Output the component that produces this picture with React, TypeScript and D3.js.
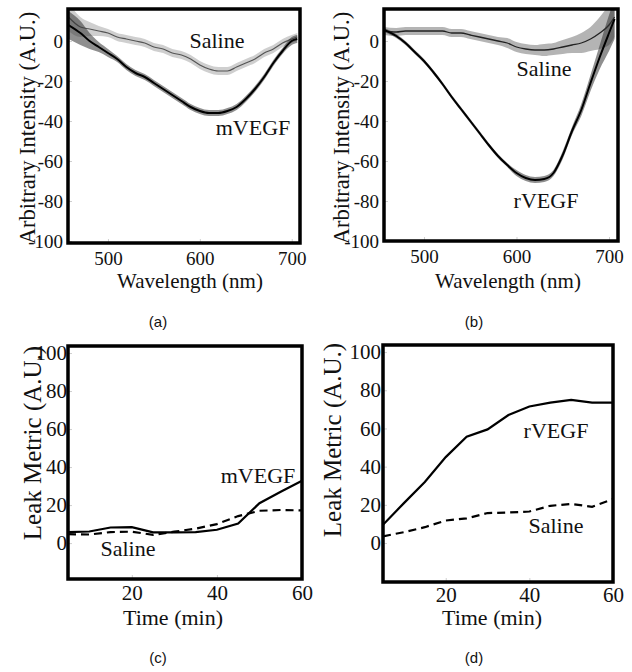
import React, { useRef, useEffect } from 'react';
import * as d3 from 'd3';

// spectra (a) and (b)
const wavelengths = [457, 470, 480, 490, 500, 510, 520, 530, 540, 550, 560, 570, 580, 590, 600, 610, 620, 630, 640, 650, 660, 670, 680, 690, 700, 706];
const mvegfSpectrum = [8, 4, 0, -3, -6, -9, -13, -16, -18, -21, -24, -27, -30, -33, -35, -36, -36, -35, -33, -29, -24, -18, -11, -5, 0, 1];
const mvegfNoise = [7, 6, 4, 2.5, 2, 1.5, 1.5, 1.5, 1.5, 1.5, 1.5, 1.5, 1.5, 1.5, 1.5, 1.5, 1.5, 1.5, 1.5, 1.5, 1.5, 1.5, 1.5, 1.5, 2, 2];
const salineSpectrumA = [12, 7, 6, 5, 4, 2, 1, 0, -1, -3, -4, -6, -7, -9, -12, -14, -15, -15, -13, -11, -9, -6, -4, -1, 1, 2];
const salineNoiseA = [7, 5, 3.5, 2.5, 2, 2, 2, 2, 2, 2, 2, 2, 2, 2, 2, 2, 2, 2, 2, 2, 2, 2, 2, 2, 2, 2];
const rvegfSpectrum = [5.5, 2.5, -1, -5.5, -10, -15.5, -21.5, -28, -34, -40, -46, -52, -57.5, -62, -66, -68.5, -69.5, -69, -66, -57, -45, -34.5, -21, -8, 4, 11];
const rvegfNoise = [1, 1, 1, 1, 1, 1, 1, 1, 1, 1, 1, 1, 1, 1, 1.5, 1.5, 1.5, 1.5, 1.5, 2, 2, 3, 4, 6, 9, 10];
const salineSpectrumB = [5, 4.5, 5, 5, 5, 5, 5, 4, 4, 3, 2, 1, 0, -1, -3, -4, -4.5, -4.5, -4, -3, -2, -1, 1, 4, 8, 12];
const salineNoiseB = [2, 2, 2, 2, 2, 2, 2, 2, 2, 2, 2, 2, 2, 2.5, 2.5, 2.5, 2.5, 3, 3, 3.5, 4, 5, 6, 8, 10, 10];

// leak metric (c) and (d)
const times = [5, 10, 15, 20, 25, 30, 35, 40, 45, 50, 55, 60];
const mvegfLeak = [5.8, 6.1, 8.2, 8.4, 5.6, 5.6, 5.8, 7, 10.3, 21, 27, 32.8];
const salineLeakC = [4.7, 4.5, 5.8, 6.0, 4.3, 6.0, 7.6, 10, 14.2, 17, 17.4, 17.2];
const rvegfLeak = [9.6, 20.9, 32, 45, 55.7, 59.5, 67, 71.5, 73.5, 75, 73.5, 73.5];
const salineLeakD = [3.5, 5.7, 8.3, 11.8, 12.9, 15.7, 16, 16.5, 19.5, 20.5, 19, 23];

const wavelengthTicks = [500, 600, 700];
const intensityTicks = [0, -20, -40, -60, -80, -100];
const timeTicks = [20, 40, 60];
const leakTicks = [0, 20, 40, 60, 80, 100];

const serif = '"Liberation Serif", "Times New Roman", serif';
const sans = '"Liberation Sans", Arial, sans-serif';

const panels = [
  {
    box: [68, 9, 300, 243], xDomain: [456.5, 709], yDomain: [-101, 16],
    xTicks: wavelengthTicks, yTicks: intensityTicks, tickFont: 19, yPad: 5, xPad: 9,
    xTitle: 'Wavelength (nm)', xTitlePos: [190, 288], titleFont: 21,
    yTitle: 'Arbitrary Intensity (A.U.)', yTitlePos: [35, 128], yTitleFont: 22.5,
    caption: '(a)', captionPos: [158, 327],
    spectra: [
      { values: salineSpectrumA, noise: salineNoiseA, band: '#a8a8a8', line: '#555', width: 1.2 },
      { values: mvegfSpectrum, noise: mvegfNoise, band: '#333', line: '#000', width: 2 },
    ],
    leaks: [],
    labels: [{ text: 'Saline', x: 217, y: 48 }, { text: 'mVEGF', x: 253, y: 135 }],
  },
  {
    box: [384, 9, 618, 241], xDomain: [456.8, 709.7], yDomain: [-100, 16],
    xTicks: wavelengthTicks, yTicks: intensityTicks, tickFont: 19, yPad: 5, xPad: 9,
    xTitle: 'Wavelength (nm)', xTitlePos: [508, 288], titleFont: 21,
    yTitle: 'Arbitrary Intensity (A.U.)', yTitlePos: [349, 128], yTitleFont: 22.5,
    caption: '(b)', captionPos: [474, 327],
    spectra: [
      { values: salineSpectrumB, noise: salineNoiseB, band: '#777', line: '#222', width: 1.3 },
      { values: rvegfSpectrum, noise: rvegfNoise, band: '#333', line: '#000', width: 2 },
    ],
    leaks: [],
    labels: [{ text: 'Saline', x: 544, y: 76 }, { text: 'rVEGF', x: 546, y: 208 }],
  },
  {
    box: [68, 346, 302, 579], xDomain: [5, 60], yDomain: [-18.9, 103.7],
    xTicks: timeTicks, yTicks: leakTicks, tickFont: 21, yPad: 1, xPad: 6,
    xTitle: 'Time (min)', xTitlePos: [173, 625], titleFont: 22,
    yTitle: 'Leak Metric (A.U.)', yTitlePos: [41, 443], yTitleFont: 25,
    caption: '(c)', captionPos: [158, 663],
    spectra: [],
    leaks: [
      { values: salineLeakC, dash: '8,5' },
      { values: mvegfLeak, dash: null },
    ],
    labels: [{ text: 'mVEGF', x: 258, y: 483 }, { text: 'Saline', x: 128, y: 556 }],
  },
  {
    box: [383, 345, 613, 582], xDomain: [5, 60], yDomain: [-20.4, 103.7],
    xTicks: timeTicks, yTicks: leakTicks, tickFont: 21, yPad: 2, xPad: 5,
    xTitle: 'Time (min)', xTitlePos: [492, 625], titleFont: 22,
    yTitle: 'Leak Metric (A.U.)', yTitlePos: [341, 440], yTitleFont: 25,
    caption: '(d)', captionPos: [474, 663],
    spectra: [],
    leaks: [
      { values: salineLeakD, dash: '8,5' },
      { values: rvegfLeak, dash: null },
    ],
    labels: [{ text: 'rVEGF', x: 556, y: 438 }, { text: 'Saline', x: 556, y: 533 }],
  },
];

const Panel = ({ cfg }) => {
  const gRef = useRef(null);

  useEffect(() => {
    const g = d3.select(gRef.current);
    g.selectAll('*').remove();
    const [left, top, right, bottom] = cfg.box;

    const x = d3.scaleLinear().domain(cfg.xDomain).range([left, right]);
    const y = d3.scaleLinear().domain(cfg.yDomain).range([bottom, top]);

    const clipId = 'clip-' + cfg.caption.replace(/\W/g, '');
    g.append('clipPath').attr('id', clipId)
      .append('rect')
      .attr('x', left).attr('y', top)
      .attr('width', right - left).attr('height', bottom - top);

    const plot = g.append('g').attr('clip-path', `url(#${clipId})`);

    // noisy spectra: a grey band for the noise, a line through the middle
    cfg.spectra.forEach((s) => {
      const band = d3.area()
        .x((d, i) => x(wavelengths[i]))
        .y0((d, i) => y(d - s.noise[i]))
        .y1((d, i) => y(d + s.noise[i]))
        .curve(d3.curveMonotoneX);
      plot.append('path')
        .attr('d', band(s.values))
        .attr('fill', s.band)
        .attr('opacity', 0.55);
      const line = d3.line()
        .x((d, i) => x(wavelengths[i]))
        .y((d) => y(d))
        .curve(d3.curveMonotoneX);
      plot.append('path')
        .attr('d', line(s.values))
        .attr('fill', 'none')
        .attr('stroke', s.line)
        .attr('stroke-width', s.width);
    });

    cfg.leaks.forEach((s) => {
      const line = d3.line()
        .x((d, i) => x(times[i]))
        .y((d) => y(d));
      plot.append('path')
        .attr('d', line(s.values))
        .attr('fill', 'none')
        .attr('stroke', '#000')
        .attr('stroke-width', 2.2)
        .attr('stroke-dasharray', s.dash);
    });

    // axes
    const yAxis = d3.axisLeft(y).tickValues(cfg.yTicks).tickSize(-4)
      .tickPadding(cfg.yPad).tickFormat((d) => String(d));
    const ya = g.append('g').attr('transform', `translate(${left},0)`).call(yAxis);
    const xAxis = d3.axisBottom(x).tickValues(cfg.xTicks).tickSize(-4)
      .tickPadding(cfg.xPad).tickFormat((d) => String(d));
    const xa = g.append('g').attr('transform', `translate(0,${bottom})`).call(xAxis);
    [ya, xa].forEach((a) => {
      a.attr('font-family', serif);
      a.select('.domain').remove();
      a.selectAll('line').attr('stroke', '#cfcfcf');
      a.selectAll('text')
        .attr('font-family', serif)
        .attr('font-size', cfg.tickFont)
        .attr('fill', '#111');
    });

    g.append('rect')
      .attr('x', left).attr('y', top)
      .attr('width', right - left).attr('height', bottom - top)
      .attr('fill', 'none')
      .attr('stroke', '#000')
      .attr('stroke-width', 3.5);

    cfg.labels.forEach((l) => {
      g.append('text')
        .attr('x', l.x).attr('y', l.y)
        .attr('text-anchor', 'middle')
        .attr('font-family', serif)
        .attr('font-size', 22)
        .attr('fill', '#111')
        .text(l.text);
    });

    g.append('text')
      .attr('x', cfg.xTitlePos[0]).attr('y', cfg.xTitlePos[1])
      .attr('text-anchor', 'middle')
      .attr('font-family', serif)
      .attr('font-size', cfg.titleFont)
      .attr('fill', '#111')
      .text(cfg.xTitle);

    g.append('text')
      .attr('transform', `translate(${cfg.yTitlePos[0]},${cfg.yTitlePos[1]}) rotate(-90)`)
      .attr('text-anchor', 'middle')
      .attr('font-family', serif)
      .attr('font-size', cfg.yTitleFont)
      .attr('fill', '#111')
      .text(cfg.yTitle);

    g.append('text')
      .attr('x', cfg.captionPos[0]).attr('y', cfg.captionPos[1])
      .attr('text-anchor', 'middle')
      .attr('font-family', sans)
      .attr('font-size', 15)
      .attr('fill', '#111')
      .text(cfg.caption);
  }, [cfg]);

  return <g ref={gRef} />;
};

const App = () => (
  <svg
    width={632}
    height={672}
    style={{ position: 'absolute', left: 0, top: 0, background: '#fff', display: 'block' }}
  >
    {panels.map((p) => (
      <Panel key={p.caption} cfg={p} />
    ))}
  </svg>
);

export default App;
